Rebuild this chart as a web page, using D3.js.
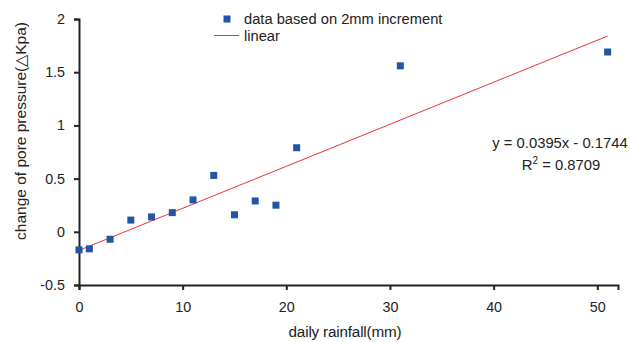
<!DOCTYPE html>
<html>
<head>
<meta charset="utf-8">
<script src="https://cdn.jsdelivr.net/npm/d3@7"></script>
<style>
  body { margin: 0; background: #fff; }
  text { font-family: "Liberation Sans", Arial, sans-serif; fill: #222; }
</style>
</head>
<body>
<svg width="630" height="342"></svg>
<script>
const rainfall = [0, 1, 3, 5, 7, 9, 11, 13, 15, 17, 19, 21, 31, 51]
const pressure = [-0.17, -0.16, -0.07, 0.11, 0.14, 0.18, 0.30, 0.53, 0.16, 0.29, 0.25, 0.79, 1.56, 1.69]
const xTicks = [0, 10, 20, 30, 40, 50]
const yTicks = [-0.5, 0, 0.5, 1, 1.5, 2]
const slope = 0.0395
const intercept = -0.1744
const fitRange = [0, 51]

const svg = d3.select('svg')

const x = d3.scaleLinear().domain([0, 52]).range([79, 618])
const y = d3.scaleLinear().domain([-0.5, 2]).range([285, 19])

// axes
const xAxis = svg.append('g')
	.attr('transform', `translate(0,${y(-0.5)})`)
	.call(d3.axisBottom(x).tickValues(xTicks).tickSize(5).tickPadding(12).tickFormat(d3.format('d')))
const yAxis = svg.append('g')
	.attr('transform', `translate(${x(0)},0)`)
	.call(d3.axisLeft(y).tickValues(yTicks).tickSize(5).tickPadding(9).tickFormat(d => String(d)))

;[xAxis, yAxis].forEach(g => {
	g.select('.domain').attr('stroke', '#222').attr('stroke-width', 2)
	g.selectAll('.tick line').attr('stroke', '#222').attr('stroke-width', 2)
	g.selectAll('.tick text').style('font-size', '14.3px').attr('fill', '#222')
})

// trend line
const lineGen = d3.line()
	.x(d => x(d))
	.y(d => y(slope * d + intercept))

svg.append('path')
	.attr('d', lineGen(fitRange))
	.attr('stroke', '#ee3333')
	.attr('stroke-width', 1)
	.attr('fill', 'none')

// points
svg.append('g')
	.selectAll('rect')
	.data(rainfall)
	.join('rect')
	.attr('x', d => x(d) - 3.5)
	.attr('y', (d, i) => y(pressure[i]) - 3.5)
	.attr('width', 7)
	.attr('height', 7)
	.attr('fill', '#2156a5')

// legend
svg.append('rect').attr('x', 223.5).attr('y', 15.5).attr('width', 7).attr('height', 7).attr('fill', '#2156a5')
svg.append('text').attr('x', 244).attr('y', 24).style('font-size', '14.7px').text('data based on 2mm increment')
svg.append('line').attr('x1', 214).attr('x2', 239).attr('y1', 35.5).attr('y2', 35.5)
	.attr('stroke', '#ee3333').attr('stroke-width', 1)
svg.append('text').attr('x', 244).attr('y', 40.5).style('font-size', '14.7px').text('linear')

// equation
svg.append('text').attr('x', 560).attr('y', 148).attr('text-anchor', 'middle')
	.style('font-size', '14.8px').text('y = 0.0395x - 0.1744')
const r2 = svg.append('text').attr('x', 561).attr('y', 170).attr('text-anchor', 'middle').style('font-size', '14.8px')
r2.append('tspan').text('R')
r2.append('tspan').attr('dy', -6).style('font-size', '10px').text('2')
r2.append('tspan').attr('dy', 6).text(' = 0.8709')

// axis titles
svg.append('text').attr('x', 345).attr('y', 337).attr('text-anchor', 'middle')
	.style('font-size', '15.3px').style('letter-spacing', '-0.2px').text('daily rainfall(mm)')
svg.append('text').attr('transform', 'translate(26,131) rotate(-90)').attr('text-anchor', 'middle')
	.style('font-size', '15.5px').text('change of pore pressure(△Kpa)')
</script>
</body>
</html>
